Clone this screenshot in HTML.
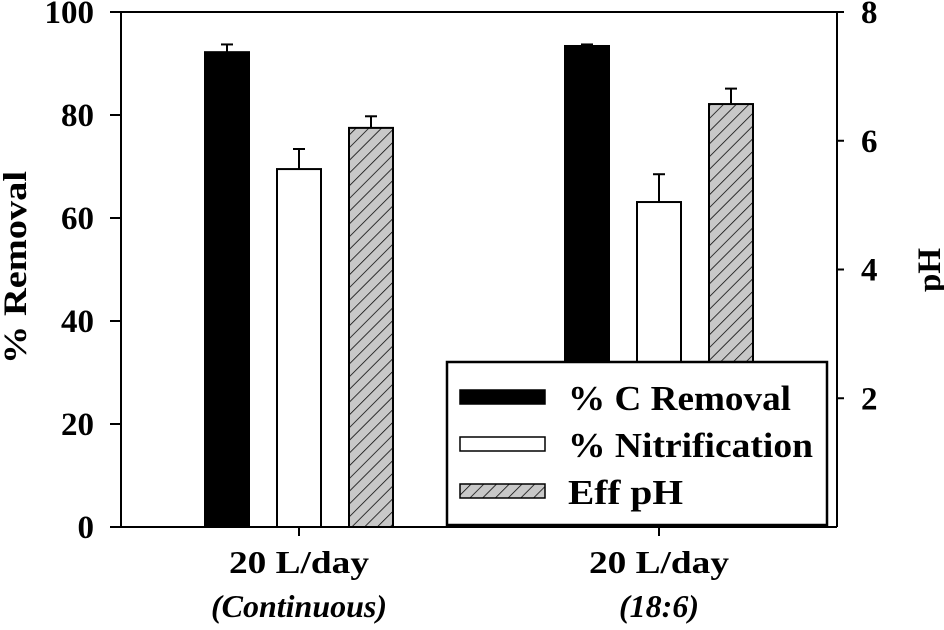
<!DOCTYPE html>
<html><head><meta charset="utf-8"><style>
body{margin:0;background:#fff}
svg text{font-family:"Liberation Serif",serif;font-weight:bold;fill:#000}
</style></head><body>
<svg id="c" width="944" height="625" viewBox="0 0 944 625" xmlns="http://www.w3.org/2000/svg">
<defs><pattern id="hatch" width="9" height="9" patternUnits="userSpaceOnUse" patternTransform="rotate(45)">
<rect width="9" height="9" fill="#c8c8c8"/><line x1="0" y1="0" x2="0" y2="9" stroke="#000" stroke-width="1.5"/></pattern></defs>
<g id="plot"></g>
</svg>
<script>
const categories=["20 L/day","20 L/day"];
const subLabels=["(Continuous)","(18:6)"];
const cRemoval=[92.2,93.4];
const cRemovalErr=[1.5,0.3];
const nitrification=[69.5,63.1];
const nitrificationErr=[3.9,5.4];
const effPH=[6.2,6.57];
const effPHErr=[0.18,0.24];
const leftTicks=[0,20,40,60,80,100];
const rightTicks=[2,4,6,8];
const L=121,R=837,T=12,B=527;
const yL=v=>B-(v/100)*(B-T);
const yR=v=>B-(v/8)*(B-T);
const centers=[299,659];
const bw=44,off=[-72,0,72];
const NS="http://www.w3.org/2000/svg";
const g=document.getElementById('plot');
function mk(tag,a,p){const e=document.createElementNS(NS,tag);for(const k in a)e.setAttribute(k,a[k]);(p||g).appendChild(e);return e;}
let ax=mk('line',{x1:L,y1:T,x2:L,y2:B,stroke:'#000','stroke-width':2});

ax=mk('line',{x1:L,y1:B,x2:R,y2:B,stroke:'#000','stroke-width':2});

ax=mk('line',{x1:R,y1:T,x2:R,y2:B,stroke:'#000','stroke-width':2});

ax=mk('line',{x1:L,y1:T,x2:R,y2:T,stroke:'#000','stroke-width':2});

leftTicks.forEach(v=>{const y=yL(v);
 mk('line',{x1:L-11,y1:y,x2:L,y2:y,stroke:'#000','stroke-width':2});
 const t=mk('text',{x:L-27,y:y+11,'text-anchor':'end','font-size':33});t.textContent=v;
 });
rightTicks.forEach(v=>{const y=yR(v);
 mk('line',{x1:R,y1:y,x2:R+7,y2:y,stroke:'#000','stroke-width':2});
 const t=mk('text',{x:R+24,y:y+11,'font-size':33});t.textContent=v;
 });
centers.forEach((cx,i)=>{
 mk('line',{x1:cx,y1:B,x2:cx,y2:B+9,stroke:'#000','stroke-width':2});
 let t=mk('text',{x:cx-70,y:573,'font-size':32,textLength:140,lengthAdjust:'spacingAndGlyphs'});t.textContent=categories[i];
 
 t=mk('text',{x:cx,y:617,'text-anchor':'middle','font-size':32,'font-style':'italic'});t.textContent=subLabels[i];
 
});
function bar(x,ytop,ycap,fill,name){
 mk('line',{x1:x+bw/2,y1:ytop,x2:x+bw/2,y2:ycap,stroke:'#000','stroke-width':2});
 mk('line',{x1:x+bw/2-6,y1:ycap,x2:x+bw/2+6,y2:ycap,stroke:'#000','stroke-width':2});
 const r=mk('rect',{x:x,y:ytop,width:bw,height:B-ytop,fill:fill,stroke:'#000','stroke-width':2});
 
}
centers.forEach((cx,i)=>{
 bar(cx+off[0]-bw/2,yL(cRemoval[i]),yL(cRemoval[i]+cRemovalErr[i]),'#000','bar-c-removal');
 bar(cx+off[1]-bw/2,yL(nitrification[i]),yL(nitrification[i]+nitrificationErr[i]),'#fff','bar-nitrification');
 bar(cx+off[2]-bw/2,yR(effPH[i]),yR(effPH[i]+effPHErr[i]),'url(#hatch)','bar-eff-ph');
});
const lg=mk('g',{});
mk('rect',{x:447,y:362,width:380,height:163,fill:'#fff',stroke:'#000','stroke-width':2.5},lg);
const items=[['% C Removal','#000',223],['% Nitrification','#fff',245],['Eff pH','url(#hatch)',115]];
items.forEach((it,i)=>{const y=397+i*47;
 const e=mk('g',{},lg);
 mk('rect',{x:460,y:y-7,width:85,height:14,fill:it[1],stroke:'#000','stroke-width':1.5},e);
 const t=mk('text',{x:568,y:y+13,'font-size':35,textLength:it[2],lengthAdjust:'spacingAndGlyphs'},e);t.textContent=it[0];});
let t=mk('text',{x:-96,y:0,'font-size':33,textLength:193,lengthAdjust:'spacingAndGlyphs',transform:'translate(26,268) rotate(-90)'});t.textContent='% Removal';

t=mk('text',{x:0,y:0,'font-size':33,'text-anchor':'middle',transform:'translate(940,270) rotate(-90)'});t.textContent='pH';

</script>
</body></html>
